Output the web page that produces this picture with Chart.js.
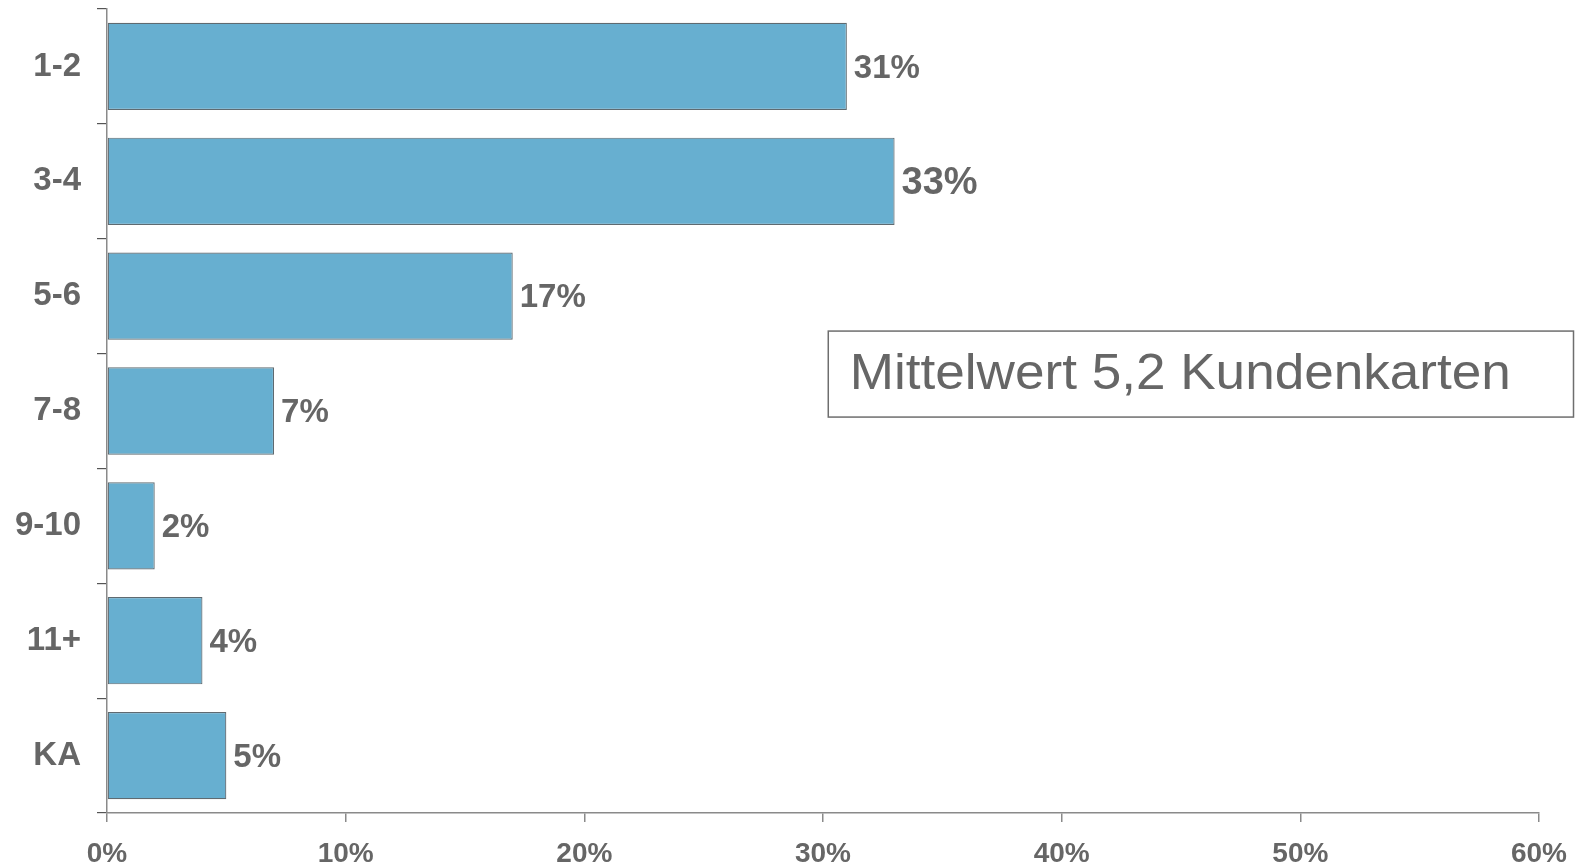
<!DOCTYPE html>
<html>
<head>
<meta charset="utf-8">
<script src="https://cdn.jsdelivr.net/npm/chart.js@4/dist/chart.umd.min.js"></script>
<style>
  html, body { margin: 0; padding: 0; background: #fff; }
  #wrap { width: 1583px; height: 867px; position: relative; }
</style>
</head>
<body>
<div id="wrap"><canvas id="c"></canvas></div>
<script>
// ── Data ──────────────────────────────────────────────────────────────────────
const categories = ["1-2", "3-4", "5-6", "7-8", "9-10", "11+", "KA"];
const shares     = [31, 33, 17, 7, 2, 4, 5];
const xTicks     = [0, 10, 20, 30, 40, 50, 60];
const noteText   = "Mittelwert 5,2 Kundenkarten";

const BAR_FILL = "#67afd0";
const INK      = "#666666";
const AXIS     = "#8a8a8a";
const FONT     = "'Liberation Sans', Arial, Helvetica, sans-serif";

// ── Value labels at the end of each bar ───────────────────────────────────────
// The largest share gets a slightly bigger label, as in the source slide.
const valueLabels = {
  id: "valueLabels",
  afterDatasetsDraw(chart) {
    const ctx  = chart.ctx;
    const meta = chart.getDatasetMeta(0);
    const top  = Math.max(...shares);
    ctx.save();
    ctx.fillStyle = INK;
    ctx.textAlign = "left";
    ctx.textBaseline = "middle";
    meta.data.forEach((bar, i) => {
      ctx.font = `bold ${shares[i] === top ? 38 : 33}px ${FONT}`;
      ctx.fillText(`${shares[i]}%`, bar.x + 7, bar.y + 2);
    });
    ctx.restore();
  },
};

// ── Boxed note on the right ───────────────────────────────────────────────────
const noteBox = {
  id: "noteBox",
  afterDraw(chart) {
    const ctx = chart.ctx;
    const x = chart.scales.x;
    const y = chart.scales.y;
    const left  = x.getPixelForValue(30.2);
    const right = 1573;
    const top   = (y.getPixelForValue(2) + y.getPixelForValue(3)) / 2 - 23;
    const bot   = top + 86;
    ctx.save();
    ctx.strokeStyle = "#6e6e6e";
    ctx.lineWidth = 1.5;
    ctx.strokeRect(left + 0.5, top + 0.5, right - left, bot - top);
    ctx.fillStyle = INK;
    ctx.font = `48px ${FONT}`;
    ctx.textBaseline = "middle";
    const w = ctx.measureText(noteText).width;
    ctx.translate(left + 22, (top + bot) / 2 + 2);
    ctx.scale(661 / w, 1.04);
    ctx.fillText(noteText, 0, 0);
    ctx.restore();
  },
};

new Chart(document.getElementById("c").getContext("2d"), {
  type: "bar",
  data: {
    labels: categories,
    datasets: [{
      data:               shares,
      backgroundColor:    BAR_FILL,
      borderColor:        "#5f6a70",
      borderWidth:        1.2,
      borderSkipped:      false,
      categoryPercentage: 1,
      barPercentage:      0.76,
    }],
  },
  options: {
    indexAxis:           "y",
    responsive:          true,
    maintainAspectRatio: false,
    animation:           false,
    layout: { padding: { top: 9, right: 44, left: 0, bottom: 0 } },
    plugins: {
      legend:  { display: false },
      tooltip: { enabled: false },
    },
    scales: {
      x: {
        min: 0,
        max: 60,
        afterFit: s => { s.height = 54; s.paddingLeft = 0; s.paddingRight = 0; },
        afterBuildTicks: s => { s.ticks = xTicks.map(v => ({ value: v })); },
        grid:   { drawOnChartArea: false, tickLength: 9, color: AXIS, lineWidth: 1.5 },
        border: { color: AXIS, width: 1.5 },
        ticks: {
          color: INK,
          padding: 15,
          font: { family: FONT, size: 28, weight: "bold" },
          callback: v => `${v}%`,
        },
      },
      y: {
        afterFit: s => { s.width = 107; s.paddingTop = 0; s.paddingBottom = 0; },
        grid:   { drawOnChartArea: false, offset: true, tickLength: 10, color: "#555", lineWidth: 1.2 },
        border: { color: AXIS, width: 1.5 },
        ticks: {
          color: INK,
          padding: 16,
          font: { family: FONT, size: 33, weight: "bold" },
        },
      },
    },
  },
  plugins: [valueLabels, noteBox],
});
</script>
</body>
</html>
